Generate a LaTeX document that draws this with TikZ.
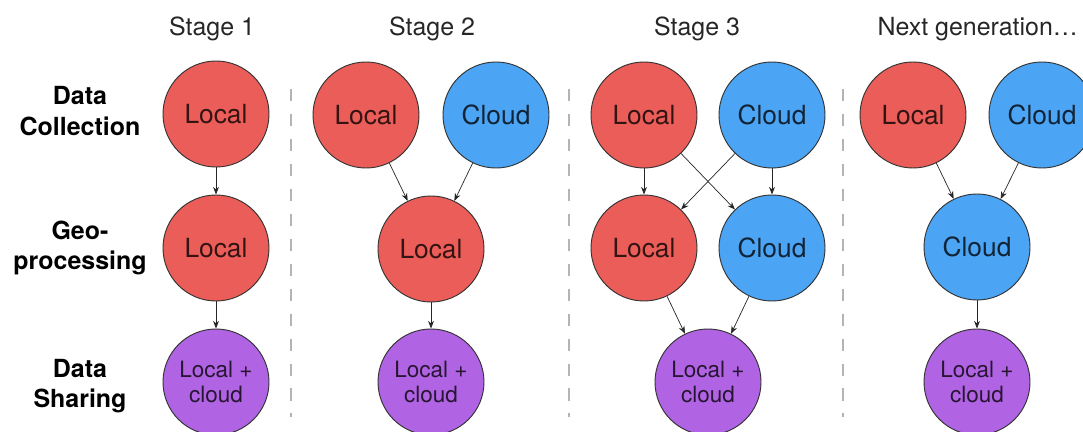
\documentclass[tikz,border=0pt]{standalone}
\usepackage{fontspec}
\setmainfont{TeX Gyre Heros}
\usetikzlibrary{arrows.meta}
\definecolor{localred}{HTML}{EA5D58}
\definecolor{cloudblue}{HTML}{4CA4F4}
\definecolor{sharepurple}{HTML}{B063E2}
\definecolor{sepgray}{HTML}{B4B4B4}

\begin{document}
\begin{tikzpicture}[x=0.03cm,y=-0.03cm,
  stagecircle/.style={circle,draw=black!80,line width=0.8pt,minimum size=3.18cm,inner sep=0pt,font=\fontsize{22.5}{27}\selectfont},
  localnode/.style={stagecircle,fill=localred,text=localred!22!black},
  cloudnode/.style={stagecircle,fill=cloudblue,text=cloudblue!22!black},
  sharenode/.style={stagecircle,fill=sharepurple,text=sharepurple!22!black,align=center,font=\fontsize{19.2}{21.5}\selectfont},
  rowlabel/.style={align=center,font=\bfseries\fontsize{21.3}{26}\selectfont},
  stagetitle/.style={font=\fontsize{21.3}{26}\selectfont,text=black!85},
  flow/.style={-{Stealth[length=6.5pt,width=5pt]},line width=0.6pt,black!85},
  sepline/.style={sepgray,line width=1.8pt,dash pattern=on 10.5pt off 10.8pt}]
\useasboundingbox (0,0) rectangle (1083,432);

\node[stagetitle] (t1) at (212,29) {Stage 1};
\node[stagetitle] (t2) at (432,29) {Stage 2};
\node[stagetitle] (t3) at (697,29) {Stage 3};
\node[stagetitle,anchor=east] (t4) at (1082,29) {Next generation…};

\node[rowlabel] (rcol) at (80,111) {Data\\Collection};
\node[rowlabel] (rgeo) at (80,248) {Geo-\\processing};
\node[rowlabel] (rshr) at (80,386) {Data\\Sharing};

\draw[sepline] (291,89) -- (291,417);
\draw[sepline] (569,89) -- (569,417);
\draw[sepline] (843,89) -- (843,417);

\node[localnode] (s1col) at (216,114) {Local};
\node[localnode] (s1geo) at (216,248) {Local};
\node[sharenode] (s1shr) at (216,382) {Local +\\cloud};
\draw[flow] (s1col) -- (s1geo);
\draw[flow] (s1geo) -- (s1shr);

\node[localnode] (s2loc) at (366,115) {Local};
\node[cloudnode] (s2cld) at (496,115) {Cloud};
\node[localnode] (s2geo) at (431,249) {Local};
\node[sharenode] (s2shr) at (431,382) {Local +\\cloud};
\draw[flow] (s2loc) -- (s2geo);
\draw[flow] (s2cld) -- (s2geo);
\draw[flow] (s2geo) -- (s2shr);

\node[localnode] (s3loc) at (644,115) {Local};
\node[cloudnode] (s3cld) at (772,115) {Cloud};
\node[localnode] (s3gloc) at (644,248) {Local};
\node[cloudnode] (s3gcld) at (772,248) {Cloud};
\node[sharenode] (s3shr) at (708,382) {Local +\\cloud};
\draw[flow] (s3loc) -- (s3gloc);
\draw[flow] (s3loc) -- (s3gcld);
\draw[flow] (s3cld) -- (s3gloc);
\draw[flow] (s3cld) -- (s3gcld);
\draw[flow] (s3gloc) -- (s3shr);
\draw[flow] (s3gcld) -- (s3shr);

\node[localnode] (ngloc) at (913,115) {Local};
\node[cloudnode] (ngcld) at (1042,115) {Cloud};
\node[cloudnode] (nggeo) at (977,247) {Cloud};
\node[sharenode] (ngshr) at (977,382) {Local +\\cloud};
\draw[flow] (ngloc) -- (nggeo);
\draw[flow] (ngcld) -- (nggeo);
\draw[flow] (nggeo) -- (ngshr);

\end{tikzpicture}
\end{document}
